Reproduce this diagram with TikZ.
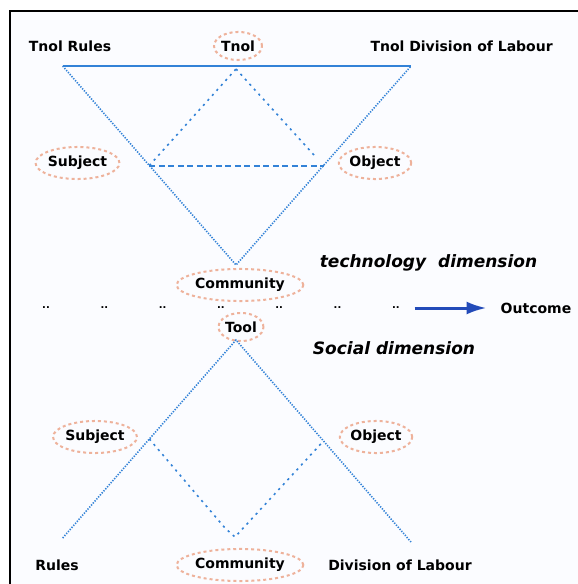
\documentclass[tikz,border=0pt]{standalone}
\usepackage{fontspec}
\setmainfont{DejaVu Sans}
\usetikzlibrary{positioning, shapes.geometric, arrows.meta, calc}
\definecolor{axisblue}{RGB}{50,130,215}
\definecolor{flowblue}{RGB}{35,75,185}
\definecolor{peach}{RGB}{238,178,155}
\definecolor{paper}{RGB}{251,252,255}
\tikzstyle{plain}=[font=\fontsize{14bp}{16bp}\bfseries\selectfont, inner sep=0pt]
\tikzstyle{actor}=[plain, ellipse, draw=peach, dashed, line width=2bp, inner xsep=0bp, inner ysep=4.5bp]
\tikzstyle{dimension}=[font=\fontsize{17bp}{19bp}\bfseries\itshape\selectfont, inner sep=0pt]
\tikzstyle{dots}=[font=\fontsize{10bp}{10bp}\bfseries\selectfont, inner sep=0pt]
\tikzstyle{edge}=[axisblue, line width=1.6bp, dash pattern=on 1.3bp off 1.4bp]
\tikzstyle{inner}=[axisblue, line width=1.6bp, dash pattern=on 2.2bp off 4.5bp]
\tikzstyle{link}=[axisblue, line width=2bp, dash pattern=on 6bp off 3.5bp]
\tikzstyle{flow}=[flowblue, line width=3bp, -{Latex[length=20bp, width=13bp]}]

\begin{document}
\begin{tikzpicture}[x=1bp, y=-1bp]
            %two activity triangles meeting between the dimensions
            \useasboundingbox (0,0) rectangle (578,584);
            \fill[paper] (10,11) rectangle (578,584);
            \draw[line width=2.5bp] (10,584) -- (10,11) -- (578,11);

            % technology dimension
            \coordinate (tl) at (62.7,66);
            \coordinate (tr) at (411,66);
            \coordinate (tb) at (236,265);
            \coordinate (ta) at (236,69);
            \coordinate (ts) at ($(tl)!.5!(tb)$);
            \coordinate (to) at ($(tr)!.5!(tb)$);
            \node[plain](trules) at (70,46){Tnol Rules};
            \node[actor](ttool) at (238,46){Tnol};
            \node[plain](tdiv) at (461.6,46){Tnol Division of Labour};
            \node[actor](tsubj) at (77.5,163){Subject};
            \node[actor](tobj) at (375,163){Object};
            \node[dimension](techdim) at (428.5,263){technology\ \ dimension};
            \draw[axisblue, line width=1.8bp] (tl) -- (tr);
            \draw[edge] (tl) -- (tb) -- (tr);
            \draw[inner] (ts) -- (ta);
            \draw[inner, shorten >=12bp] (ta) -- (to);
            \draw[link] (ts) -- (to);

            % outcome row
            \node[actor](mcomm) at (240,285){Community};
            \foreach \n in {1,...,7}{
                \pgfmathsetmacro\dx{46 + 58.3*(\n-1)}
                \node[dots](dot\n) at (\dx,308){..};
            }
            \coordinate (flow) at (414.7,308);
            \node[plain](outcome) at (536,308){Outcome};
            \draw[flow, shorten >=14bp] (flow) -- (outcome.west);
            \node[actor](mtool) at (241,327){Tool};
            \node[dimension](socdim) at (394,348){Social dimension};

            % social dimension
            \coordinate (bt) at (236,340);
            \coordinate (bl) at (62.7,538);
            \coordinate (br) at (411,542);
            \coordinate (bv) at (235,537);
            \coordinate (bs) at ($(bl)!.5!(bt)$);
            \coordinate (bo) at ($(br)!.5!(bt)$);
            \node[actor](bsubj) at (95,437){Subject};
            \node[actor](bobj) at (376,437){Object};
            \node[plain](brules) at (57,565){Rules};
            \node[actor](bcomm) at (240,565){Community};
            \node[plain](bdiv) at (400,565){Division of Labour};
            \draw[edge] (bl) -- (bt) -- (br);
            \draw[inner] (bs) -- (225,528) -- (bv) -- (bo);
        \end{tikzpicture}
\end{document}
